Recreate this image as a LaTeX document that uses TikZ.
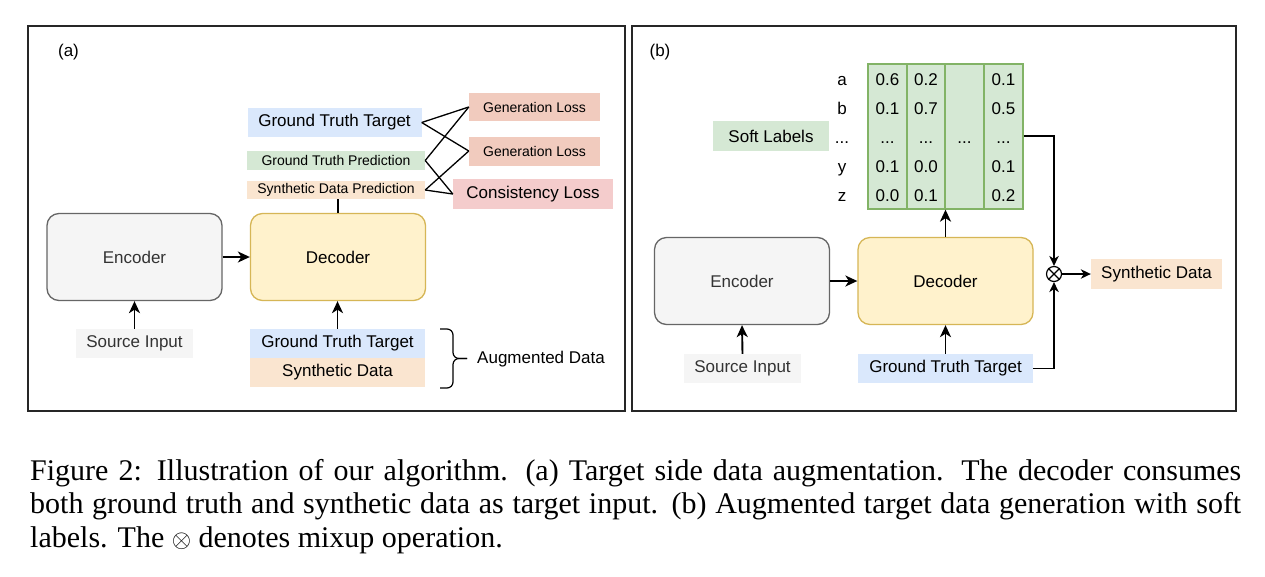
\documentclass[tikz,border=0pt]{standalone}
\usepackage{fontspec}
\setmainfont{Liberation Serif}
\newfontfamily\hv{Liberation Sans}
\usetikzlibrary{arrows.meta,calc}
\definecolor{grayF}{HTML}{F5F5F5}
\definecolor{grayS}{HTML}{666666}
\definecolor{grayT}{HTML}{333333}
\definecolor{yelF}{HTML}{FFF2CC}
\definecolor{yelS}{HTML}{D6B656}
\definecolor{bluF}{HTML}{DAE8FC}
\definecolor{grnF}{HTML}{D5E8D4}
\definecolor{grnS}{HTML}{82B366}
\definecolor{orgF}{HTML}{FAE5D0}
\definecolor{genF}{HTML}{F1CBBE}
\definecolor{conF}{HTML}{F4CCCC}
\begin{document}
\begin{tikzpicture}[x=1pt,y=-1pt,
  every node/.style={inner sep=0pt, font=\hv\fontsize{17}{20}\selectfont},
  small/.style={font=\hv\fontsize{14}{16}\selectfont},
  block/.style={draw, line width=1.3pt, rounded corners=12pt, minimum width=175pt, minimum height=87pt},
  encbox/.style={block, fill=grayF, draw=grayS, text=grayT},
  decbox/.style={block, fill=yelF, draw=yelS},
  lbl/.style={minimum height=29pt},
  panel/.style={draw=black!85, line width=1.3pt},
  thick arrow/.style={line width=1.9pt, -{Stealth[length=12pt,width=11pt,inset=3.5pt]}},
  thin arrow/.style={line width=1.3pt, -{Stealth[length=10pt,width=9.5pt,inset=3pt]}},
  thin line/.style={line width=1.3pt},
  colbox/.style={draw=grnS, fill=grnF, line width=1.3pt, minimum width=39pt, minimum height=145pt},
  cell/.style={anchor=base},
  captxt/.style={anchor=base west, font=\fontsize{30}{33}\selectfont}
]
\useasboundingbox (0,0) rectangle (1265,576);
\fill[white] (0,0) rectangle (1265,576);

% ---------- panels ----------
\draw[panel] (28,26) rectangle (625,411);
\draw[panel] (632,26) rectangle (1236,411);
\node (pa) at (68.5,52) {(a)};
\node (pb) at (660,52) {(b)};

% ---------- panel (a) ----------
\node[encbox] (encA) at (134.5,257) {Encoder};
\node[decbox] (decA) at (338,257) {Decoder};
\node[lbl, fill=grayF, text=grayT, minimum width=117pt] (srcA) at (134.5,343.5) {Source Input};
\node[lbl, fill=bluF, minimum width=175pt] (gttA) at (337.5,343.5) {Ground Truth Target};
\node[lbl, fill=orgF, minimum width=175pt] (synA) at (337.5,372.5) {Synthetic Data};

\draw[thick arrow] (encA) -- (decA);
\draw[thick arrow] (srcA.north) -- (encA.south);
\draw[thick arrow] (gttA.north) -- (gttA.north |- decA.south);

% brace
\coordinate (bA) at (440,329);
\coordinate (bB) at (440,388);
\coordinate (bTip) at (467,358.5);
\draw[line width=1.2pt, rounded corners=6pt] (bA) -- (453,329) -- (453,358.5) -- (bTip);
\draw[line width=1.2pt, rounded corners=6pt] (bB) -- (453,388) -- (453,358.5) -- (bTip);
\node (aug) at (541,359) {Augmented Data};

% predictions and losses
\node[lbl, fill=bluF, minimum width=174pt] (gttT) at (334.5,122.5) {Ground Truth Target};
\node[small, fill=grnF, minimum width=178pt, minimum height=19pt] (gtp) at (336,160.5) {Ground Truth Prediction};
\node[small, fill=orgF, minimum width=178pt, minimum height=18pt] (sdp) at (336,190) {Synthetic Data Prediction};
\node[small, fill=genF, minimum width=131pt, minimum height=28pt] (gl1) at (534.5,107) {Generation Loss};
\node[small, fill=genF, minimum width=131pt, minimum height=29pt] (gl2) at (534.5,151) {Generation Loss};
\node[fill=conF, minimum width=160pt, minimum height=30pt] (cl) at (533,194) {Consistency Loss};

\draw[thin line] (decA.north) -- (decA.north |- sdp.south);
\draw[thin line] (gttT.east) -- (gl1.west);
\draw[thin line] (gttT.east) -- (gl2.west);
\draw[thin line] (gtp.east) -- (gl1.west);
\draw[thin line] (gtp.east) -- (cl.west);
\draw[thin line] (sdp.east) -- (gl2.west);
\draw[thin line] (sdp.east) -- (cl.west);

% ---------- panel (b) ----------
\node[encbox] (encB) at (742,281) {Encoder};
\node[decbox] (decB) at (945.5,281) {Decoder};
\node[lbl, fill=grayF, text=grayT, minimum width=117pt] (srcB) at (742.5,368.5) {Source Input};
\node[lbl, fill=bluF, minimum width=175pt] (gttB) at (945.5,368.5) {Ground Truth Target};

\draw[thick arrow] (encB) -- (decB);
\draw[thick arrow] (srcB.north) -- (encB.south);
\draw[thick arrow] (gttB.north) -- (decB.south);

% soft label matrix
\node[colbox] (c1) at (887.5,136.5) {};
\node[colbox, minimum width=38pt] (c2) at (926,136.5) {};
\node[colbox] (c3) at (964.5,136.5) {};
\node[colbox] (c4) at (1003.5,136.5) {};

\node[cell] (r1) at (842,85) {a};
\node[cell] (r2) at (842,114) {b};
\node[cell] (r3) at (842,143) {...};
\node[cell] (r4) at (842,172) {y};
\node[cell] (r5) at (842,201) {z};

\node[cell] (va1) at (887.5,85) {0.6};
\node[cell] (va2) at (887.5,114) {0.1};
\node[cell] (va3) at (887.5,143) {...};
\node[cell] (va4) at (887.5,172) {0.1};
\node[cell] (va5) at (887.5,201) {0.0};

\node[cell] (vb1) at (926,85) {0.2};
\node[cell] (vb2) at (926,114) {0.7};
\node[cell] (vb3) at (926,143) {...};
\node[cell] (vb4) at (926,172) {0.0};
\node[cell] (vb5) at (926,201) {0.1};

\node[cell] (vc3) at (964.5,143) {...};

\node[cell] (vd1) at (1003.5,85) {0.1};
\node[cell] (vd2) at (1003.5,114) {0.5};
\node[cell] (vd3) at (1003.5,143) {...};
\node[cell] (vd4) at (1003.5,172) {0.1};
\node[cell] (vd5) at (1003.5,201) {0.2};

\node[lbl, fill=grnF, minimum width=116pt, minimum height=30pt] (soft) at (771,136) {Soft Labels};

\draw[thick arrow] (decB.north) -- (decB.north |- c2.south);

% mixup
\node[circle, draw, line width=1.2pt, minimum size=15pt] (mix) at (1054,274) {};
\draw[line width=1.2pt] (mix.north east) -- (mix.south west);
\draw[line width=1.2pt] (mix.north west) -- (mix.south east);
\node[lbl, fill=orgF, minimum width=131pt, minimum height=30pt] (synB) at (1156.5,274) {Synthetic Data};

\draw[thin arrow] (c4.east |- soft.east) -| (mix.north);
\draw[thin arrow] (gttB.east) -| (mix.south);
\draw[thin arrow] (mix.east) -- (synB.west);

% ---------- caption ----------
\node[captxt] (cap1) at (30,480.5)
  {\hbox to 1211pt{Figure 2: Illustration of our algorithm. (a) Target side data augmentation. The decoder consumes}};
\node[captxt] (cap2) at (30,513.5)
  {\hbox to 1211pt{both ground truth and synthetic data as target input. (b) Augmented target data generation with soft}};
\node[captxt] (cap3) at (30,547)
  {labels. The $\otimes$ denotes mixup operation.};
\end{tikzpicture}
\end{document}
